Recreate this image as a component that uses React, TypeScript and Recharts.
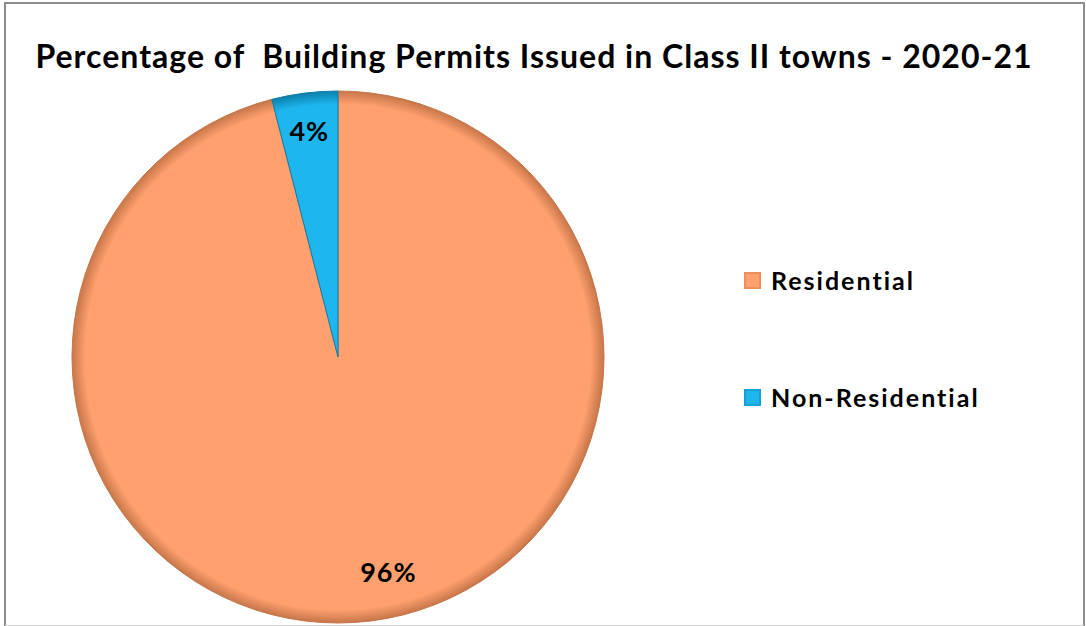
import { Cell, Pie, PieChart } from "recharts";

const categories = ["Residential", "Non-Residential"];
const shares = [96, 4];
const sliceColors = ["#FFA06E", "#1DB6EE"];
const edgeColors = ["#C7764A", "#0C7FAA"];
const gradIds = ["gradRes", "gradNonRes"];
// label placement (fraction of radius, angle nudge in degrees)
const labelRadius = [0.83, 0.86];
const labelNudge = [6, 0];

const data = categories.map((name, i) => ({ name, value: shares[i] }));

const FONT = "Lato, 'Open Sans', sans-serif";
const RAD = Math.PI / 180;
const CX = 338;
const CY = 357;
const R = 266;

function renderLabel(props: any) {
  const { cx, cy, midAngle, outerRadius, value, index } = props;
  const r = outerRadius * labelRadius[index];
  const a = midAngle + labelNudge[index];
  const x = cx + r * Math.cos(-a * RAD);
  const y = cy + r * Math.sin(-a * RAD);
  return (
    <text
      x={x}
      y={y}
      fill="#000"
      textAnchor="middle"
      dominantBaseline="central"
      fontFamily={FONT}
      fontWeight={700}
      fontSize={27}
      letterSpacing={1}
    >
      {`${value}%`}
    </text>
  );
}

export default function App() {
  return (
    <div style={{ position: "relative", width: 1086, height: 626, background: "#fff", overflow: "hidden" }}>
      <style>{`body{margin:0}`}</style>
      <svg width={0} height={0} style={{ position: "absolute" }}>
        <defs>
          {gradIds.map((id, i) => (
            <radialGradient key={id} id={id} gradientUnits="userSpaceOnUse" cx={CX} cy={CY} r={R}>
              <stop offset="0%" stopColor={sliceColors[i]} />
              <stop offset="95%" stopColor={sliceColors[i]} />
              <stop offset="100%" stopColor={edgeColors[i]} />
            </radialGradient>
          ))}
        </defs>
      </svg>
      <div
        style={{
          position: "absolute",
          left: 4,
          top: 2,
          width: 1077,
          height: 621,
          borderTop: "2px solid #8c8c8c",
          borderLeft: "2px solid #8c8c8c",
          borderRight: "2px solid #8c8c8c",
          borderBottom: "1px solid #d0d0d0",
        }}
      />
      <div
        style={{
          position: "absolute",
          left: 0,
          top: 36,
          width: 1068,
          textAlign: "center",
          fontFamily: FONT,
          fontWeight: 700,
          fontSize: 32,
          letterSpacing: 1,
          color: "#000",
          whiteSpace: "pre",
        }}
      >
        {"Percentage of  Building Permits Issued in Class II towns - 2020-21"}
      </div>
      <PieChart
        width={1086}
        height={626}
        margin={{ top: 0, right: 0, bottom: 0, left: 0 }}
        style={{ position: "absolute", left: 0, top: 0 }}
      >
        <Pie
          data={data}
          dataKey="value"
          nameKey="name"
          cx={CX}
          cy={CY}
          outerRadius={R}
          startAngle={90}
          endAngle={-270}
          label={renderLabel}
          labelLine={false}
          isAnimationActive={false}
        >
          {data.map((d, i) => (
            <Cell key={d.name} fill={`url(#${gradIds[i]})`} stroke={edgeColors[i]} strokeWidth={1} />
          ))}
        </Pie>
      </PieChart>
      <div style={{ position: "absolute", left: 744, top: 264, fontFamily: FONT }}>
        {categories.map((name, i) => (
          <div key={name} style={{ display: "flex", alignItems: "center", height: 32, marginBottom: i === 0 ? 85 : 0 }}>
            <span
              style={{
                width: 17,
                height: 17,
                background: sliceColors[i],
                boxShadow: `inset 0 0 0 2px ${edgeColors[i]}66`,
                marginRight: 10,
              }}
            />
            <span style={{ fontSize: 25, fontWeight: 700, letterSpacing: 2, color: "#000" }}>{name}</span>
          </div>
        ))}
      </div>
    </div>
  );
}
